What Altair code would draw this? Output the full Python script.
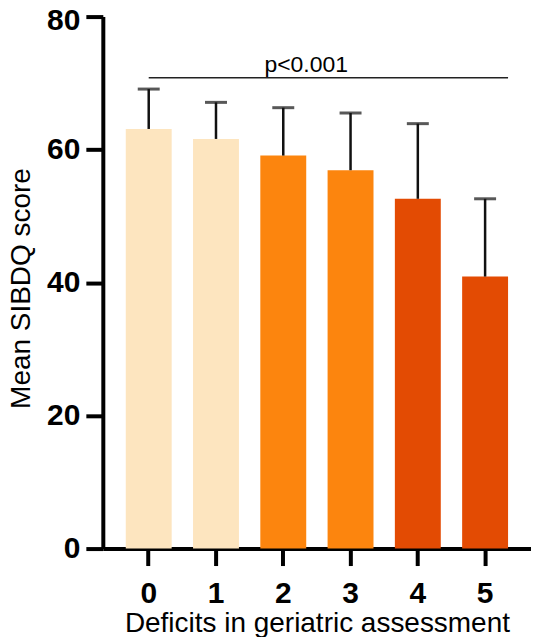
import altair as alt
import pandas as pd

deficits = ["0", "1", "2", "3", "4", "5"]
means = [63.1, 61.6, 59.1, 56.9, 52.6, 40.9]
sds = [6.0, 5.5, 7.2, 8.6, 11.3, 11.7]
groups = ["low", "low", "mid", "mid", "high", "high"]
group_colors = ["#FDE5BF", "#FC850E", "#E34B03"]
p_text = "p<0.001"
p_y = 70.8

df = pd.DataFrame({
    "deficit": deficits,
    "mean": means,
    "upper": [m + s for m, s in zip(means, sds)],
    "group": groups,
})
pdf = pd.DataFrame({"start": ["0"], "end": ["5"], "mid": ["2"], "y": [p_y], "label": [p_text]})

FONT = "Liberation Sans"

xscale = alt.Scale(domain=deficits, paddingInner=0.3175, paddingOuter=0.341)
yscale = alt.Scale(domain=[0, 80], nice=False)

xaxis = alt.Axis(
    title="Deficits in geriatric assessment", labelAngle=0, tickSize=17, tickWidth=4,
    domainWidth=4, domainColor="black", tickColor="black", labelColor="black",
    labelFontSize=30, labelFontWeight="bold", labelFont=FONT, labelPadding=13,
    titleFont=FONT, titleFontSize=28, titleFontWeight="normal", titleColor="black",
    titleY=83, titleBaseline="alphabetic",
)
yaxis = alt.Axis(
    title="Mean SIBDQ score", values=[0, 20, 40, 60, 80], tickSize=17, tickWidth=4,
    domainWidth=4, domainColor="black", tickColor="black", labelColor="black",
    labelFontSize=30, labelFontWeight="bold", labelFont=FONT, labelPadding=6,
    labelOffset={"condition": {"test": "datum.value == 80", "value": 4}, "value": 0},
    titleFont=FONT, titleFontSize=28, titleFontWeight="normal", titleColor="black",
    titleX=-73, titleY=272, titleBaseline="alphabetic", grid=False,
)

base = alt.Chart(df)

bars = base.mark_bar().encode(
    x=alt.X("deficit:N", scale=xscale, axis=xaxis, sort=deficits),
    y=alt.Y("mean:Q", scale=yscale, axis=yaxis),
    color=alt.Color("group:N", scale=alt.Scale(domain=["low", "mid", "high"], range=group_colors), legend=None),
)

err = base.mark_rule(color="#111111", strokeWidth=2.5).encode(
    x=alt.X("deficit:N", scale=xscale, sort=deficits),
    y=alt.Y("mean:Q", scale=yscale),
    y2="upper:Q",
)

caps = base.mark_tick(color="#111111", thickness=3, size=22).encode(
    x=alt.X("deficit:N", scale=xscale, sort=deficits),
    y=alt.Y("upper:Q", scale=yscale),
)

pline = alt.Chart(pdf).mark_rule(color="#222222", strokeWidth=1.5).encode(
    x=alt.X("start:N", scale=xscale, bandPosition=0.5),
    x2=alt.X2("end:N", bandPosition=1),
    y=alt.Y("y:Q", scale=yscale),
)

ptext = alt.Chart(pdf).mark_text(font=FONT, fontSize=23, color="black", baseline="alphabetic", dy=-6, align="center").encode(
    x=alt.X("mid:N", scale=xscale, bandPosition=1),
    y=alt.Y("y:Q", scale=yscale),
    text="label:N",
)

chart = alt.layer(bars, err, caps, pline, ptext).properties(
    width=429, height=533,
    autosize=alt.AutoSizeParams(type="none"),
    padding={"left": 95, "top": 8, "right": 0, "bottom": 88},
).configure_view(stroke=None)

chart.save("out.html", embed_options={"renderer": "svg", "actions": False})
